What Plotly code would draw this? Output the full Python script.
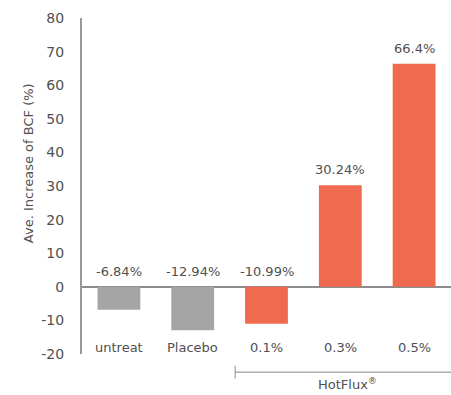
import plotly.graph_objects as go

categories = ["untreat", "Placebo", "0.1%", "0.3%", "0.5%"]
values = [-6.84, -12.94, -10.99, 30.24, 66.4]
value_labels = ["-6.84%", "-12.94%", "-10.99%", "30.24%", "66.4%"]
colors = ["#a5a5a5", "#a5a5a5", "#f06a4f", "#f06a4f", "#f06a4f"]
y_ticks = [-20, -10, 0, 10, 20, 30, 40, 50, 60, 70, 80]
y_tick_text = ["-20", "-10", "0", "10", "20", "30", "40", "50", "60", "70", "80"]

FONT = "DejaVu Sans, sans-serif"
TXT = "#505050"

fig = go.Figure()
fig.add_trace(go.Bar(
    x=categories, y=values, marker=dict(color=colors, line=dict(width=0)),
    width=0.58, hoverinfo="skip"))

annotations = []
for c, v, t in zip(categories, values, value_labels):
    annotations.append(dict(x=c, y=max(v, 0), xref="x", yref="y", text=t,
                            showarrow=False, yanchor="bottom", yshift=6,
                            font=dict(family=FONT, size=13, color=TXT)))
    annotations.append(dict(x=c, y=-18, xref="x", yref="y", text=c,
                            showarrow=False, yanchor="middle",
                            font=dict(family=FONT, size=13, color=TXT)))

annotations.append(dict(x=-0.146, y=0.5, xref="paper", yref="paper",
                        text="Ave. Increase of BCF (%)", textangle=-90,
                        showarrow=False, xanchor="center", yanchor="middle",
                        yshift=23,
                        font=dict(family=FONT, size=13, color=TXT)))
annotations.append(dict(x=0.72, y=-0.09, xref="paper", yref="paper",
                        text="HotFlux<sup>®</sup>", showarrow=False,
                        xanchor="center", yanchor="middle",
                        font=dict(family=FONT, size=13, color=TXT)))

shapes = [
    dict(type="line", xref="paper", yref="paper", x0=0.415, x1=1.0,
         y0=-0.054, y1=-0.054, line=dict(color="#888888", width=1)),
    dict(type="line", xref="paper", yref="paper", x0=0.415, x1=0.415,
         y0=-0.035, y1=-0.073, line=dict(color="#888888", width=1)),
]

fig.update_layout(
    width=451, height=395,
    margin=dict(l=82, r=0, t=18, b=41),
    paper_bgcolor="white", plot_bgcolor="white",
    showlegend=False,
    bargap=0.42,
    annotations=annotations,
    shapes=shapes,
    xaxis=dict(showticklabels=False, showgrid=False, zeroline=False,
               showline=False, ticks="", range=[-0.5, 4.5]),
    yaxis=dict(range=[-20, 80], tickvals=y_ticks, ticktext=y_tick_text,
               showgrid=False,
               zeroline=True, zerolinecolor="#8c8c8c", zerolinewidth=1.5,
               showline=True, linecolor="#9a9a9a", linewidth=2,
               ticks="", ticklabelstandoff=13,
               tickfont=dict(family=FONT, size=14, color=TXT)),
)

fig.write_html("out.html")
